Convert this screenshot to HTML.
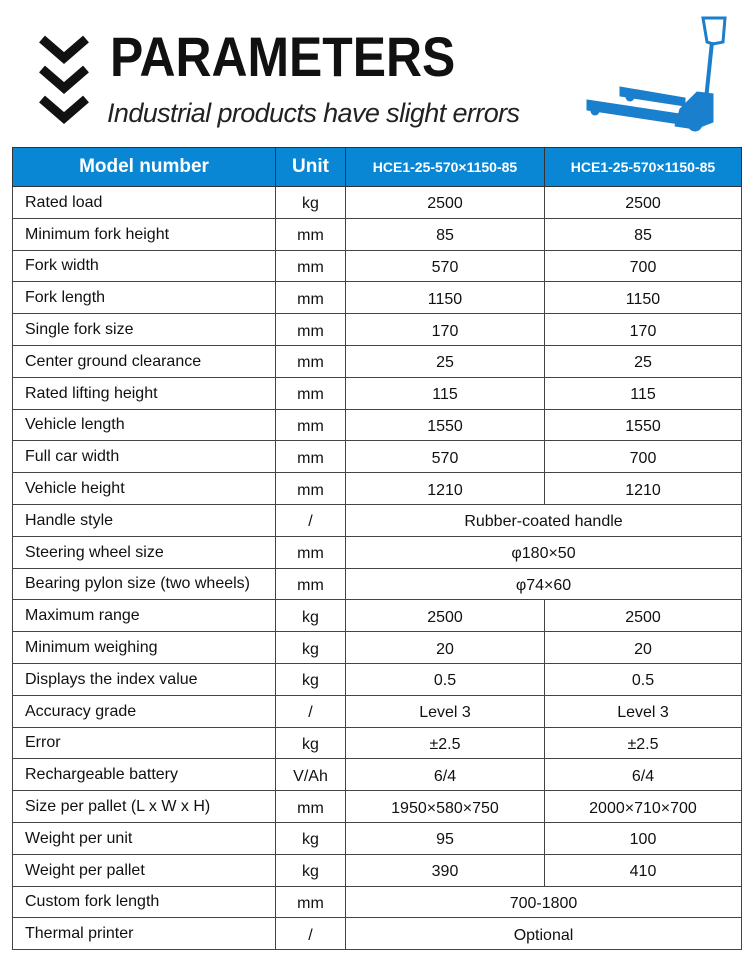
<!DOCTYPE html>
<html><head><style>
body{margin:0;width:750px;height:965px;background:#fff;position:relative;font-family:"Liberation Sans",sans-serif;overflow:hidden}
.t{position:absolute;white-space:nowrap;color:#111}
table{position:absolute;left:12px;top:147px;border-collapse:collapse;width:729px;table-layout:fixed}
td{border:1px solid #444;height:31.8px;padding:4px 0 0 0;box-sizing:border-box;text-align:center;font-size:16px;color:#111}
td.l{text-align:left;padding-left:12px;padding-top:1px}
tr.h td{background:#0a87d4;color:#fff;height:39px;font-weight:bold;border-color:#333;padding-top:0}
</style></head><body>
<svg style="position:absolute;left:37px;top:33px" width="56" height="98">
<g fill="none" stroke="#111" stroke-width="9">
<polyline points="5,6 27,25 49,6"/><polyline points="5,36 27,55 49,36"/><polyline points="5,66 27,85 49,66"/>
</g></svg>
<div class="t" style="left:110px;top:24px;font-size:56px;font-weight:bold;transform:scaleX(0.89);transform-origin:left">PARAMETERS</div>
<div class="t" style="left:107px;top:98px;font-size:27px;font-style:italic;letter-spacing:-0.6px;color:#222">Industrial products have slight errors</div>
<svg style="position:absolute;left:585px;top:14px" width="145" height="120">
<g fill="#1a7fcc" stroke="#1a7fcc">
<path d="M118 4 L140 4 L138 28 L128 30 L122 28 Z" fill="none" stroke-width="3"/>
<line x1="127" y1="28" x2="120" y2="95" stroke-width="4"/>
<path d="M95 95 L112 78 L128 80 L128 108 L110 115 L90 112 Z"/>
<path d="M2 86 L95 100 L95 110 L2 96 Z"/>
<path d="M35 73 L100 84 L100 92 L35 82 Z"/>
<circle cx="10" cy="97" r="4"/><circle cx="45" cy="83" r="4"/><circle cx="110" cy="110" r="7"/>
</g></svg>
<table>
<colgroup><col style="width:263px"><col style="width:70px"><col style="width:199px"><col style="width:197px"></colgroup>
<tr class="h"><td style="font-size:19px">Model number</td><td style="font-size:19px">Unit</td><td style="font-size:14px">HCE1-25-570×1150-85</td><td style="font-size:14px">HCE1-25-570×1150-85</td></tr>
<tr><td class="l">Rated load</td><td>kg</td><td>2500</td><td>2500</td></tr>
<tr><td class="l">Minimum fork height</td><td>mm</td><td>85</td><td>85</td></tr>
<tr><td class="l">Fork width</td><td>mm</td><td>570</td><td>700</td></tr>
<tr><td class="l">Fork length</td><td>mm</td><td>1150</td><td>1150</td></tr>
<tr><td class="l">Single fork size</td><td>mm</td><td>170</td><td>170</td></tr>
<tr><td class="l">Center ground clearance</td><td>mm</td><td>25</td><td>25</td></tr>
<tr><td class="l">Rated lifting height</td><td>mm</td><td>115</td><td>115</td></tr>
<tr><td class="l">Vehicle length</td><td>mm</td><td>1550</td><td>1550</td></tr>
<tr><td class="l">Full car width</td><td>mm</td><td>570</td><td>700</td></tr>
<tr><td class="l">Vehicle height</td><td>mm</td><td>1210</td><td>1210</td></tr>
<tr><td class="l">Handle style</td><td>/</td><td colspan="2">Rubber-coated handle</td></tr>
<tr><td class="l">Steering wheel size</td><td>mm</td><td colspan="2">φ180×50</td></tr>
<tr><td class="l">Bearing pylon size (two wheels)</td><td>mm</td><td colspan="2">φ74×60</td></tr>
<tr><td class="l">Maximum range</td><td>kg</td><td>2500</td><td>2500</td></tr>
<tr><td class="l">Minimum weighing</td><td>kg</td><td>20</td><td>20</td></tr>
<tr><td class="l">Displays the index value</td><td>kg</td><td>0.5</td><td>0.5</td></tr>
<tr><td class="l">Accuracy grade</td><td>/</td><td>Level 3</td><td>Level 3</td></tr>
<tr><td class="l">Error</td><td>kg</td><td>±2.5</td><td>±2.5</td></tr>
<tr><td class="l">Rechargeable battery</td><td>V/Ah</td><td>6/4</td><td>6/4</td></tr>
<tr><td class="l">Size per pallet (L x W x H)</td><td>mm</td><td>1950×580×750</td><td>2000×710×700</td></tr>
<tr><td class="l">Weight per unit</td><td>kg</td><td>95</td><td>100</td></tr>
<tr><td class="l">Weight per pallet</td><td>kg</td><td>390</td><td>410</td></tr>
<tr><td class="l">Custom fork length</td><td>mm</td><td colspan="2">700-1800</td></tr>
<tr><td class="l">Thermal printer</td><td>/</td><td colspan="2">Optional</td></tr>
</table>
</body></html>
